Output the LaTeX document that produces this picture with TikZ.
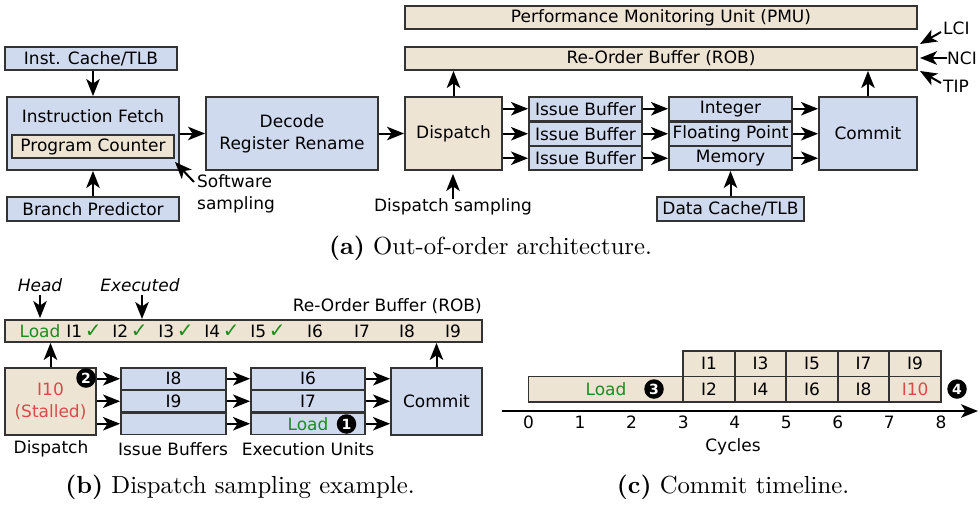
\documentclass[tikz,border=0pt]{standalone}
\usepackage{fontspec}
\usetikzlibrary{arrows.meta,calc}
\newfontfamily\dv{DejaVu Sans}
\newfontfamily\capfont{lmroman10}[Extension=.otf, UprightFont=*-regular, BoldFont=*-bold]
\definecolor{boxblue}{HTML}{D0DAEF}
\definecolor{boxtan}{HTML}{EEE4D4}
\definecolor{edge}{HTML}{333333}
\definecolor{okgreen}{HTML}{1E8C1E}
\definecolor{stallred}{HTML}{D84B4B}
\tikzset{
  txt/.style={font=\dv\fontsize{17}{22}\selectfont, inner sep=0pt, align=center},
  unit/.style={txt, draw=edge, line width=1.9pt},
  bluebox/.style={unit, fill=boxblue},
  tanbox/.style={unit, fill=boxtan},
  wh/.style 2 args={minimum width=#1, minimum height=#2},
  arr/.style={line width=2pt, -{Stealth[length=17pt,width=13.5pt,inset=4.5pt]}},
  badge/.style={circle, fill=black, text=white, minimum size=19.5pt, inner sep=0pt,
    font=\dv\bfseries\fontsize{14}{14}\selectfont},
  capt/.style={font=\capfont\fontsize{24.7}{28}\selectfont, inner sep=0pt},
  ok/.style={text=okgreen},
}
\newcommand{\tick}{\,{\color{okgreen}\fontsize{20}{22}\selectfont ✓}}
\begin{document}
\begin{tikzpicture}[x=1pt, y=-1pt]
\useasboundingbox (0,0) rectangle (980,504);

% ---------------- (a) out-of-order pipeline ----------------
\node[bluebox, wh={172pt}{23pt}] (icache) at (91,58.5) {Inst. Cache/TLB};
\node[bluebox, wh={172pt}{73pt}] (ifetch) at (93,133.5) {};
\node[txt] (iftext) at (93,116) {Instruction Fetch};
\node[tanbox, wh={162pt}{23pt}] (pc) at (93,146.5) {Program Counter};
\node[bluebox, wh={172pt}{24pt}] (bpred) at (93,209) {Branch Predictor};
\node[bluebox, wh={172pt}{73pt}] (decode) at (292,133.5) {Decode\\Register Rename};
\node[tanbox, wh={97pt}{73pt}] (dispatch) at (453.5,133.5) {Dispatch};
\node[tanbox, wh={512pt}{23pt}] (pmu) at (661,17.5) {Performance Monitoring Unit (PMU)};
\node[tanbox, wh={512pt}{23pt}] (rob) at (661,58.5) {Re-Order Buffer (ROB)};
\foreach \i/\y in {1/108.75, 2/133.75, 3/158.25}{
  \node[bluebox, wh={113pt}{23.5pt}] (ib\i) at (585.5,\y) {Issue Buffer};
}
\node[bluebox, wh={123pt}{23.5pt}] (eu1) at (730.5,108.75) {Integer};
\node[bluebox, wh={123pt}{23.5pt}] (eu2) at (730.5,133.75) {Floating Point};
\node[bluebox, wh={123pt}{23.5pt}] (eu3) at (730.5,158.25) {Memory};
\node[bluebox, wh={98pt}{73pt}] (commit) at (868,133.5) {Commit};
\node[bluebox, wh={147pt}{24pt}] (dcache) at (730.5,209) {Data Cache/TLB};

\node[txt, anchor=north west, align=left] (swsamp) at (197,174) {Software\\sampling};
\node[txt] (dsamp) at (453,207) {Dispatch sampling};
\node[txt, anchor=west] (lci) at (943,28) {LCI};
\node[txt, anchor=west] (nci) at (947,58) {NCI};
\node[txt, anchor=west] (tip) at (943,86) {TIP};
\coordinate (swtail) at (194,182);
\coordinate (swtip) at (175,162);
\coordinate (lcitail) at (941,32);
\coordinate (lcitip) at (920,44);
\coordinate (ncitip) at (920,58);
\coordinate (tiptail) at (941,83);
\coordinate (tiptip) at (920,71);

\draw[arr] (icache.south -| ifetch.north) -- (ifetch.north);
\draw[arr] (bpred.north) -- (ifetch.south);
\draw[arr] (ifetch.east) -- (decode.west);
\draw[arr] (decode.east) -- (dispatch.west);
\foreach \i in {1,2,3}{
  \draw[arr] (dispatch.east |- ib\i.west) -- (ib\i.west);
  \draw[arr] (ib\i.east) -- (eu\i.west);
  \draw[arr] (eu\i.east) -- (commit.west |- eu\i.east);
}
\draw[arr] (dispatch.north) -- (dispatch.north |- rob.south);
\draw[arr] (commit.north) -- (commit.north |- rob.south);
\draw[arr] (dcache.north) -- (eu3.south);
\draw[arr, shorten >=3pt] (dsamp.north) -- (dsamp.north |- dispatch.south);
\draw[arr] (swtail) -- (swtip);
\draw[arr] (lcitail) -- (lcitip);
\draw[arr] (nci.west) -- (ncitip);
\draw[arr] (tiptail) -- (tiptip);

\node[capt] (capa) at (490.5,248) {\textbf{(a)} Out-of-order architecture.};

% ---------------- (b) dispatch sampling example ----------------
\node[tanbox, wh={477pt}{22pt}] (rob2) at (243.5,331) {};
\node[txt, anchor=east] (robtitle) at (482,306) {Re-Order Buffer (ROB)};
\node[txt, ok] (e0) at (40,331) {Load};
\node[txt] (e1) at (84,331) {I1\tick};
\node[txt] (e2) at (130,331) {I2\tick};
\node[txt] (e3) at (176,331) {I3\tick};
\node[txt] (e4) at (222,331) {I4\tick};
\node[txt] (e5) at (268,331) {I5\tick};
\node[txt] (e6) at (315,331) {I6};
\node[txt] (e7) at (362,331) {I7};
\node[txt] (e8) at (407,331) {I8};
\node[txt] (e9) at (453,331) {I9};
\node[txt, font=\dv\itshape\fontsize{17}{22}\selectfont] (head) at (40,285) {Head};
\node[txt, font=\dv\itshape\fontsize{17}{22}\selectfont] (exec) at (140,285) {Executed};
\draw[arr, shorten >=1pt] ([yshift=-3pt]head.south -| e0.north) -- (e0.north |- rob2.north);
\draw[arr, shorten >=1pt] ([yshift=-3pt]exec.south -| 142,0) -- (142,320);

\node[tanbox, wh={91pt}{67pt}, text=stallred] (disp2) at (50.5,401.5) {I10\\(Stalled)};
\node[bluebox, wh={105pt}{21.5pt}] (bib1) at (173.5,378.75) {I8};
\node[bluebox, wh={105pt}{21.5pt}] (bib2) at (173.5,401.25) {I9};
\node[bluebox, wh={105pt}{21.5pt}] (bib3) at (173.5,423.75) {};
\node[bluebox, wh={114pt}{21.5pt}] (beu1) at (308,378.75) {I6};
\node[bluebox, wh={114pt}{21.5pt}] (beu2) at (308,401.25) {I7};
\node[bluebox, wh={114pt}{21.5pt}, text=okgreen] (beu3) at (308,423.75) {Load};
\node[bluebox, wh={91pt}{67pt}] (commit2) at (436.5,401.5) {Commit};
\node[badge] (b2) at (86,378) {2};
\node[badge] (b1) at (346.5,424) {1};
\foreach \i in {1,2,3}{
  \draw[arr] (disp2.east |- bib\i.west) -- (bib\i.west);
  \draw[arr] (bib\i.east) -- (beu\i.west);
  \draw[arr] (beu\i.east) -- (commit2.west |- beu\i.east);
}
\draw[arr] (disp2.north) -- (disp2.north |- rob2.south);
\draw[arr] (commit2.north) -- (commit2.north |- rob2.south);
\node[txt] (ldisp) at (51,449) {Dispatch};
\node[txt] (lib) at (173,449) {Issue Buffers};
\node[txt] (leu) at (308,449) {Execution Units};

\node[capt] (capb) at (240,487) {\textbf{(b)} Dispatch sampling example.};

% ---------------- (c) commit timeline ----------------
\def\xo{528.5}
\def\cu{51.55}
\node[tanbox, wh={154.65pt}{25.5pt}] (loadbar) at ({\xo+1.5*\cu},389.25) {};
\node[txt, ok] (loadtxt) at (606,389) {Load};
\node[badge] (b3) at (654,389) {3};
\foreach \k/\top/\bot in {3/I1/I2, 4/I3/I4, 5/I5/I6, 6/I7/I8}{
  \node[tanbox, wh={\cu pt}{25.5pt}] (t\k) at ({\xo+(\k+0.5)*\cu},363.75) {\top};
  \node[tanbox, wh={\cu pt}{25.5pt}] (b\k) at ({\xo+(\k+0.5)*\cu},389.25) {\bot};
}
\node[tanbox, wh={\cu pt}{25.5pt}] (t7) at ({\xo+7.5*\cu},363.75) {I9};
\node[tanbox, wh={\cu pt}{25.5pt}, text=stallred] (b7) at ({\xo+7.5*\cu},389.25) {I10};
\node[badge] (b4) at (957,389) {4};
\coordinate (axstart) at (502,411);
\coordinate (axend) at (978,411);
\draw[arr] (axstart) -- (axend);
\foreach \n in {0,...,8}{
  \node[txt] (n\n) at ({\xo+\n*\cu},422) {\n};
}
\node[txt] (cyc) at (733,447) {Cycles};

\node[capt] (capc) at (733,487) {\textbf{(c)} Commit timeline.};
\end{tikzpicture}
\end{document}
